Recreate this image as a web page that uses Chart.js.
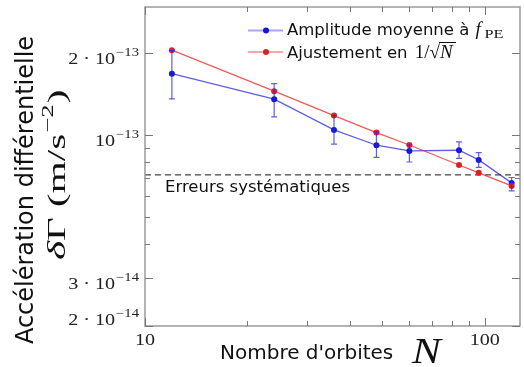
<!DOCTYPE html>
<html>
<head>
<meta charset="utf-8">
<script src="https://cdn.jsdelivr.net/npm/chart.js@4.4.0/dist/chart.umd.min.js"></script>
<style>
html, body { margin: 0; padding: 0; background: #fff; }
#wrap { width: 524px; height: 367px; }
</style>
</head>
<body>
<div id="wrap"><canvas id="mycanvas" width="524" height="367"></canvas></div>
<script>
// number of orbits N
var orbits = [12, 24, 36, 48, 60, 84, 96, 120];
// mean amplitude at f_PE and its error bars (m/s^-2)
var amplitude = [1.68e-13, 1.355e-13, 1.046e-13, 0.919e-13, 0.876e-13, 0.881e-13, 0.812e-13, 0.669e-13];
var ampLow = [1.36e-13, 1.167e-13, 0.927e-13, 0.829e-13, 0.798e-13, 0.822e-13, 0.762e-13, 0.625e-13];
var ampHigh = [2.04e-13, 1.546e-13, 1.18e-13, 1.028e-13, 0.921e-13, 0.945e-13, 0.864e-13, 0.70e-13];
// 1/sqrt(N) fit
var fit = [2.05e-13, 1.45e-13, 1.18e-13, 1.023e-13, 0.921e-13, 0.778e-13, 0.728e-13, 0.652e-13];
// systematic error level
var sysError = 0.716e-13;

var xTicks = [10, 20, 30, 40, 50, 60, 70, 80, 90, 100];
var xTickLabels = ['10', '', '', '', '', '', '', '', '', '100'];
var yTicks = [2e-14, 3e-14, 4e-14, 5e-14, 6e-14, 7e-14, 8e-14, 9e-14, 1e-13, 2e-13];
var yTickMant = ['2 · ', '3 · ', '', '', '', '', '', '', '', '2 · '];
var yTickExp = ['−14', '−14', '', '', '', '', '', '', '−13', '−13'];

var blue = '#1515d6';
var red = '#e02020';
var SERIF = '"Liberation Serif"';

function pts(ys) {
	var out = [];
	for (var i in orbits) {
		out.push({x: orbits[i], y: ys[i]});
	}
	return out;
}

// text stretched horizontally (the serif labels of the original are wide)
function wideText(ctx, txt, x, y, sx) {
	ctx.save();
	ctx.translate(x, y);
	ctx.scale(sx, 1);
	ctx.fillText(txt, 0, 0);
	ctx.restore();
	return ctx.measureText(txt).width * sx;
}

var extras = {
	id: 'extras',
	afterDatasetsDraw: function(chart) {
		var ctx = chart.ctx;
		var xs = chart.scales.x, ys = chart.scales.y;
		ctx.save();
		ctx.strokeStyle = 'rgba(40,40,220,0.75)';
		ctx.lineWidth = 1.2;
		for (var i in orbits) {
			var px = xs.getPixelForValue(orbits[i]);
			var t = ys.getPixelForValue(ampHigh[i]);
			var b = ys.getPixelForValue(ampLow[i]);
			ctx.beginPath();
			ctx.moveTo(px, t); ctx.lineTo(px, b);
			ctx.moveTo(px - 3, t); ctx.lineTo(px + 3, t);
			ctx.moveTo(px - 3, b); ctx.lineTo(px + 3, b);
			ctx.stroke();
		}
		ctx.restore();
	},
	afterDraw: function(chart) {
		var ctx = chart.ctx;
		var a = chart.chartArea;
		var xs = chart.scales.x, ys = chart.scales.y;
		ctx.save();

		// frame
		ctx.strokeStyle = '#9a9a9a';
		ctx.lineWidth = 1.5;
		ctx.strokeRect(a.left, a.top, a.right - a.left, a.bottom - a.top);

		// inward ticks
		ctx.strokeStyle = '#777';
		ctx.lineWidth = 1;
		ctx.beginPath();
		for (var i in xTicks) {
			var px = Math.round(xs.getPixelForValue(xTicks[i])) + 0.5;
			var len = xTickLabels[i] ? 8 : 5;
			ctx.moveTo(px, a.bottom); ctx.lineTo(px, a.bottom - len);
			ctx.moveTo(px, a.top); ctx.lineTo(px, a.top + len);
		}
		for (var j in yTicks) {
			var py = Math.round(ys.getPixelForValue(yTicks[j])) + 0.5;
			var l2 = yTickExp[j] ? 8 : 5;
			ctx.moveTo(a.left, py); ctx.lineTo(a.left + l2, py);
			ctx.moveTo(a.right, py); ctx.lineTo(a.right - l2, py);
		}
		ctx.stroke();

		// tick labels
		var sx = 1.22;
		ctx.fillStyle = '#222';
		ctx.textBaseline = 'alphabetic';
		ctx.textAlign = 'left';
		ctx.font = '16.5px ' + SERIF;
		for (var k in xTicks) {
			if (!xTickLabels[k]) continue;
			var wl = ctx.measureText(xTickLabels[k]).width * sx;
			wideText(ctx, xTickLabels[k], xs.getPixelForValue(xTicks[k]) - wl / 2, a.bottom + 19, sx);
		}
		for (var m in yTicks) {
			if (!yTickExp[m]) continue;
			var yy = Math.min(ys.getPixelForValue(yTicks[m]) + 11, a.bottom - 1);
			ctx.font = '12px ' + SERIF;
			var we = ctx.measureText(yTickExp[m]).width * sx;
			ctx.font = '16.5px ' + SERIF;
			var main = yTickMant[m] + '10';
			var wm = ctx.measureText(main).width * sx;
			var x0 = a.left - 7 - we - wm;
			wideText(ctx, main, x0, yy, sx);
			ctx.font = '12px ' + SERIF;
			wideText(ctx, yTickExp[m], x0 + wm + 1, yy - 8, sx);
		}

		// systematic error label
		ctx.font = '16.5px "DejaVu Sans"';
		ctx.fillStyle = '#111';
		ctx.fillText('Erreurs systématiques', 165, ys.getPixelForValue(sysError) + 17);

		// legend
		var rows = [[blue, 'rgba(60,60,230,0.45)', 30.5], [red, 'rgba(235,60,60,0.45)', 52]];
		for (var r in rows) {
			ctx.strokeStyle = rows[r][1];
			ctx.lineWidth = 2;
			ctx.beginPath();
			ctx.moveTo(248, rows[r][2]); ctx.lineTo(283, rows[r][2]);
			ctx.stroke();
			ctx.fillStyle = rows[r][0];
			ctx.beginPath();
			ctx.arc(266, rows[r][2], 3, 0, Math.PI * 2);
			ctx.fill();
		}
		ctx.fillStyle = '#111';
		ctx.font = '16.5px "DejaVu Sans"';
		ctx.fillText('Amplitude moyenne à', 287, 34.5);
		var w1 = ctx.measureText('Amplitude moyenne à ').width;
		ctx.font = 'italic 19px ' + SERIF;
		ctx.fillText('f', 287 + w1 + 1, 34.5);
		ctx.font = '13px ' + SERIF;
		wideText(ctx, 'PE', 287 + w1 + 10, 38, 1.25);
		ctx.font = '16.5px "DejaVu Sans"';
		ctx.fillText('Ajustement en', 287, 57.5);
		var w2 = ctx.measureText('Ajustement en ').width;
		var lx = 287 + w2 + 2;
		ctx.font = '19px ' + SERIF;
		ctx.fillText('1/', lx, 57.5);
		var w3 = ctx.measureText('1/').width;
		ctx.fillText('√', lx + w3, 57.5);
		var w4 = ctx.measureText('√').width;
		ctx.strokeStyle = '#111';
		ctx.lineWidth = 1;
		ctx.beginPath();
		ctx.moveTo(lx + w3 + w4 - 1, 42.5); ctx.lineTo(lx + w3 + w4 + 16, 42.5);
		ctx.stroke();
		ctx.font = 'italic 19px ' + SERIF;
		ctx.fillText('N', lx + w3 + w4, 57.5);

		// axis titles
		ctx.font = '20px "DejaVu Sans"';
		ctx.fillText("Nombre d'orbites", 220, 358.5);
		ctx.font = 'italic 36px ' + SERIF;
		wideText(ctx, 'N', 412, 362.5, 1.2);

		ctx.save();
		ctx.translate(33, 190);
		ctx.rotate(-Math.PI / 2);
		ctx.textAlign = 'center';
		ctx.font = '24px "DejaVu Sans"';
		ctx.fillText('Accélération différentielle', 0, 0);
		ctx.restore();

		ctx.save();
		ctx.translate(65, 260);
		ctx.rotate(-Math.PI / 2);
		ctx.textAlign = 'left';
		var st = 1.58, d = 0;
		ctx.font = 'italic 26px ' + SERIF;
		d += wideText(ctx, 'δ', d, 0, st);
		ctx.font = '26px ' + SERIF;
		d += wideText(ctx, 'Γ (m/s', d, 0, st);
		ctx.font = '17px ' + SERIF;
		d += wideText(ctx, '−2', d + 1, -12, st) + 2;
		ctx.font = '26px ' + SERIF;
		wideText(ctx, ')', d, 0, st);
		ctx.restore();

		ctx.restore();
	}
};

var chartdata = {
	datasets: [
		{
			label: 'Amplitude moyenne à f_PE',
			data: pts(amplitude),
			borderColor: 'rgba(40,40,220,0.75)',
			backgroundColor: blue,
			pointBackgroundColor: blue,
			pointBorderWidth: 0,
			pointRadius: 3,
			borderWidth: 1.3,
			showLine: true,
			order: 2
		},
		{
			label: 'Ajustement en 1/√N',
			data: pts(fit),
			borderColor: 'rgba(230,50,50,0.8)',
			backgroundColor: red,
			pointBackgroundColor: red,
			pointBorderWidth: 0,
			pointRadius: 3,
			borderWidth: 1.3,
			showLine: true,
			order: 1
		},
		{
			label: 'Erreurs systématiques',
			data: [{x: 10, y: sysError}, {x: 127, y: sysError}],
			borderColor: '#444',
			borderDash: [6, 4],
			borderWidth: 1.3,
			pointRadius: 0,
			showLine: true,
			order: 3
		}
	]
};

var ctx = document.getElementById('mycanvas');

var chart = new Chart(ctx, {
	type: 'scatter',
	data: chartdata,
	plugins: [extras],
	options: {
		responsive: false,
		animation: false,
		devicePixelRatio: 1,
		layout: { padding: { top: 7, right: 1, left: 0, bottom: 0 } },
		plugins: {
			legend: { display: false },
			tooltip: { enabled: false }
		},
		scales: {
			x: {
				type: 'logarithmic',
				min: 10,
				max: 127,
				grid: { display: false },
				border: { display: false },
				ticks: { display: false },
				afterFit: function(s) { s.height = 41; }
			},
			y: {
				type: 'logarithmic',
				min: 2e-14,
				max: 2.95e-13,
				grid: { display: false },
				border: { display: false },
				ticks: { display: false },
				afterFit: function(s) { s.width = 145; }
			}
		}
	}
});
</script>
</body>
</html>
